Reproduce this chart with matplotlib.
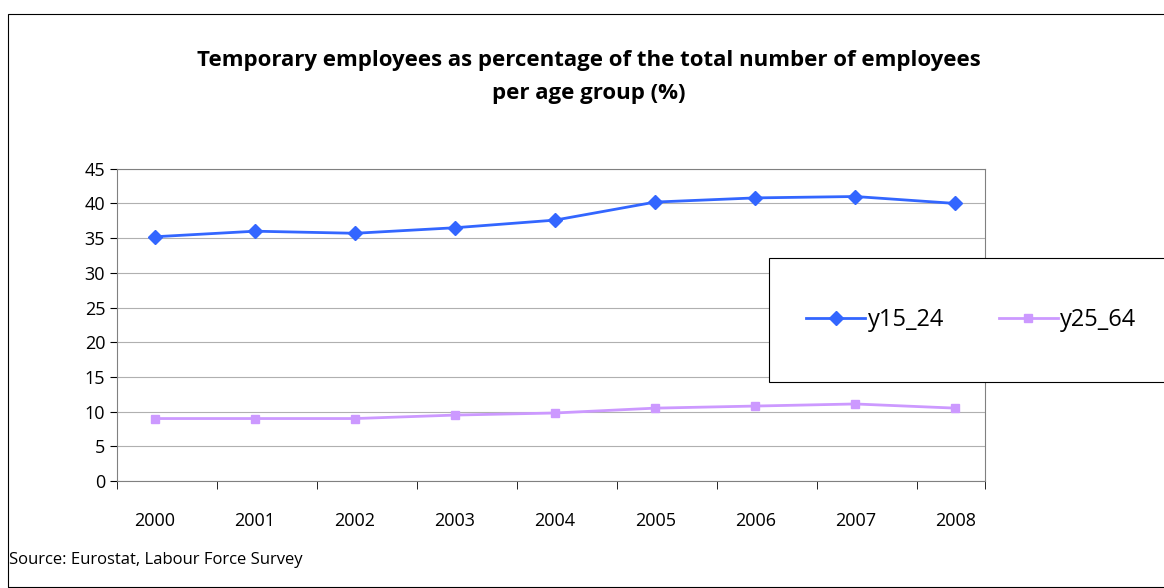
import matplotlib
matplotlib.use("Agg")
import matplotlib.pyplot as plt
from matplotlib.patches import Rectangle

plt.rcParams['font.family'] = ['Open Sans', 'DejaVu Sans']

years = ["2000", "2001", "2002", "2003", "2004", "2005", "2006", "2007", "2008"]
y15_24 = [35.2, 36.0, 35.7, 36.5, 37.6, 40.2, 40.8, 41.0, 40.0]
y25_64 = [9.0, 9.0, 9.0, 9.5, 9.8, 10.5, 10.8, 11.1, 10.5]

fig = plt.figure(figsize=(11.64, 5.88), dpi=100)
# outer chart frame
fig.patches.append(Rectangle((8 / 1164, 0.002), 1.2, 1 - 14 / 588 - 0.002,
                             transform=fig.transFigure, fill=False,
                             edgecolor="black", linewidth=0.8))

ax = fig.add_axes([0.1005, 0.182, 0.746, 0.531])
x = list(range(len(years)))
l1, = ax.plot(x, y15_24, color="#3366ff", marker="D", markersize=7, linewidth=2, label="y15_24")
l2, = ax.plot(x, y25_64, color="#cc99ff", marker="s", markersize=6, linewidth=2, label="y25_64")

ax.set_xlim(-0.38, 8.3)
ax.set_ylim(0, 45)
ax.set_yticks(range(0, 46, 5))
ax.set_xticks(x)
ax.set_xticklabels(years)
ax.set_xticks([i - 0.38 for i in range(9)] + [8.3], minor=True)
ax.tick_params(axis="x", which="major", length=0, pad=22, labelsize=13)
ax.tick_params(axis="x", which="minor", length=6, direction="out")
ax.tick_params(axis="y", labelsize=13, length=5)
ax.yaxis.grid(True, color="#b0b0b0", linewidth=0.8)
ax.set_axisbelow(True)
for s in ["top", "right", "left", "bottom"]:
    ax.spines[s].set_color("#808080")

fig.text(0.506, 0.869, "Temporary employees as percentage of the total number of employees\nper age group (%)",
         ha="center", va="center", fontsize=16, fontweight="bold", linespacing=1.75)
fig.text(0.008, 0.04, "Source: Eurostat, Labour Force Survey", fontsize=12)

# legend box (runs past the right edge, as in the reference)
fig.patches.append(Rectangle((769 / 1164, 1 - 382 / 588), 0.4, 124 / 588,
                             transform=fig.transFigure, facecolor="white",
                             edgecolor="black", linewidth=0.8, zorder=5))
leg = fig.legend(handles=[l1, l2], loc="center left", bbox_to_anchor=(797 / 1164, 1 - 320 / 588),
                 ncol=2, fontsize=17, frameon=False,
                 handlelength=2.5, columnspacing=2.3, handletextpad=0.1, borderaxespad=0)
leg.set_zorder(6)

fig.savefig("out.png", dpi=100)
